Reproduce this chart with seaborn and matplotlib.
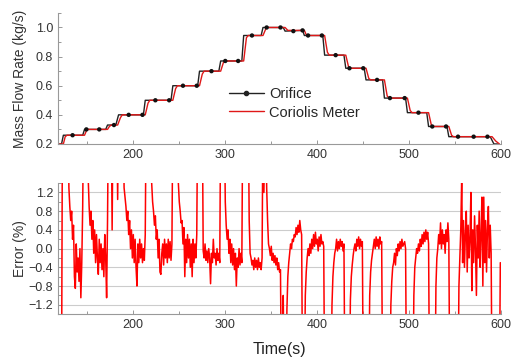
import numpy as np
import pandas as pd
import seaborn as sns
from matplotlib import pyplot as plt
from matplotlib.lines import Line2D
from matplotlib.ticker import MultipleLocator

# flow rate, orifice (step corners)
orifice_t = [120, 122, 124, 145, 147, 170, 172, 181, 184, 211, 213, 241, 243, 270, 272,
             293, 295, 318, 320, 339, 341, 363, 365, 384, 386, 406, 408, 429, 431, 451,
             453, 471, 473, 496, 498, 519, 521, 541, 543, 588, 592, 596]
orifice_v = [0.2, 0.2, 0.26, 0.26, 0.30, 0.30, 0.33, 0.33, 0.40, 0.40, 0.50, 0.50, 0.60, 0.60, 0.70,
             0.70, 0.77, 0.77, 0.945, 0.945, 1.0, 1.0, 0.975, 0.98, 0.945, 0.945, 0.81, 0.81, 0.72, 0.72,
             0.64, 0.64, 0.515, 0.515, 0.415, 0.415, 0.32, 0.32, 0.25, 0.25, 0.2, 0.2]

# orifice sample markers
marker_t = [134, 149, 163, 179, 195, 210, 224, 239, 254, 269, 285, 300, 314, 329, 345, 360,
            374, 384, 390, 405, 420, 435, 450, 465, 479, 495, 510, 525, 540, 553, 570, 585]
marker_v = [0.26, 0.30, 0.30, 0.33, 0.40, 0.40, 0.50, 0.50, 0.60, 0.60, 0.70, 0.77, 0.77, 0.945, 1.0, 1.0,
            0.975, 0.98, 0.945, 0.945, 0.81, 0.72, 0.72, 0.64, 0.515, 0.515, 0.415, 0.32, 0.32, 0.25, 0.25, 0.25]

# coriolis meter (lags the orifice a little)
coriolis_t = [120, 124, 126, 128, 147, 149, 151, 172, 174, 176, 183, 186, 188, 213, 216, 218,
              243, 246, 248, 272, 275, 277, 295, 298, 300, 320, 323, 325, 341, 344, 346, 365,
              368, 386, 388, 390, 408, 411, 413, 431, 434, 436, 453, 456, 458, 473, 476, 478,
              498, 501, 503, 521, 524, 526, 543, 546, 548, 590, 594, 598]
coriolis_v = [0.2, 0.2, 0.25, 0.26, 0.26, 0.29, 0.30, 0.30, 0.32, 0.33, 0.33, 0.38, 0.40, 0.40, 0.48, 0.50,
              0.50, 0.58, 0.60, 0.60, 0.68, 0.70, 0.70, 0.76, 0.77, 0.77, 0.93, 0.945, 0.945, 0.99, 1.0, 1.0,
              0.98, 0.98, 0.95, 0.945, 0.945, 0.83, 0.81, 0.81, 0.73, 0.72, 0.72, 0.65, 0.64, 0.64, 0.53, 0.515,
              0.515, 0.43, 0.415, 0.415, 0.33, 0.32, 0.32, 0.26, 0.25, 0.25, 0.22, 0.2]

# error (%), one value per second from t=120 s; +-3 means off scale
error_t0 = 120
error_pct = [
    -3, -3, -3, 3, 3, 3, 3, 3, 3, 3,
    1.3, 0.9, 0.6, 0.8, 0.2, 0.5, -0.6, -0.85, 0.1, -0.5,
    -0.2, -0.7, 0.0, -1.05, -0.3, 0.9, 3, 3, 3, 3,
    3, 1.5, 0.9, 0.5, 0.8, 0.2, 0.6, -0.1, 0.4, -0.3,
    0.3, -0.2, -0.55, 0.2, -0.3, 0.1, -0.45, 0.0, -0.6, 0.3,
    -0.2, -1.05, 0.6, 3, 3, 3, 3, 0.4, 3, 3,
    3, 3, 3, 1.05, 3, 3, 3, 3, 3, 3,
    1.3, 1.1, 0.9, 0.6, 0.8, 0.3, 0.6, 0.0, 0.4, -0.2,
    0.3, -0.3, 0.2, -0.4, -0.8, 0.1, -0.3, 0.2, -0.2, 0.1,
    -0.3, 0.0, -0.25, 0.3, 3, 3, 3, 3, 3, 3,
    1.4, 1.0, 0.8, 0.5, 0.7, 0.2, 0.4, -0.2, 0.2, -0.5,
    -0.55, -0.1, 0.1, -0.35, 0.2, -0.2, 0.1, -0.3, 0.2, -0.2,
    0.15, -0.25, 0.1, 3, 3, 3, 3, 3, 3, 1.4,
    1.0, 0.8, 0.55, 0.6, 0.1, 0.45, -0.6, 0.2, -0.3, 0.3,
    -0.2, 0.2, -0.4, 0.1, -0.6, 0.2, -0.3, 0.1, -0.2, 0.3,
    3, 3, 3, 3, 3, 3, -0.05, -0.2, 0.1, -0.25,
    -0.05, -0.3, 0.0, -0.2, -0.75, -0.1, -0.3, 0.2, -0.2, -0.1,
    -0.35, 0.0, -0.25, -0.1, -0.3, 3, 3, 3, 3, 3,
    1.0, 0.5, 0.2, 0.4, -0.1, 0.2, -0.3, 0.1, -0.35, 0.0,
    -0.45, -0.1, -0.8, -0.2, -0.4, 0.0, -0.35, -0.1, -0.3, 3,
    3, 3, 3, 3, 3, 3, 0.6, -0.1, -0.2, -0.35,
    -0.25, -0.45, -0.2, -0.4, -0.25, -0.45, -0.2, -0.4, -0.3, -0.45,
    -0.2, 3, 1.2, 3, 3, 1.3, 0.6, 0.1, 0.0, -0.15,
    0.05, -0.25, -0.1, -0.3, -0.15, -0.35, -0.2, -0.45, -0.3, -0.5,
    -0.45, -3, -3, -1.0, -3, -3, -3, -1.3, -0.6, -0.3,
    -0.1, 0.1, 0.0, 0.2, 0.15, 0.3, 0.25, 0.45, 0.3, 0.5,
    0.35, 0.6, 0.4, 0.3, -3, -3, -3, -1.0, -0.5, -0.2,
    0.0, -0.15, 0.1, -0.1, 0.2, 0.0, 0.3, 0.05, 0.35, 0.1,
    0.2, -0.05, 0.25, 0.05, 0.3, 0.1, 0.15, 0.05, -3, -3,
    -3, -3, -3, -3, -3, -3, -1.2, -0.6, -0.3, -0.1,
    0.0, 0.2, -0.05, 0.15, 0.0, 0.2, 0.05, 0.15, -0.05, 0.1,
    -3, -3, -3, -3, -3, -3, -1.1, -0.6, -0.35, -0.15,
    0.0, 0.1, -0.05, 0.2, 0.05, 0.25, 0.0, 0.2, 0.05, 0.15,
    -3, -3, -3, -3, -3, -3, -3, -1.0, -0.5, -0.25,
    -0.1, 0.05, 0.2, 0.0, 0.25, 0.05, 0.2, 0.0, 0.25, 0.1,
    0.15, -3, -3, -3, -3, -3, -3, -3, -3, -3,
    -1.2, -0.7, -0.4, -0.3, -0.1, -0.35, 0.0, -0.15, 0.1, -0.05,
    0.15, 0.0, 0.2, 0.05, 0.1, 0.15, 0.0, -3, -3, -3,
    -3, -3, -3, -3, -3, -1.0, -0.4, -0.2, 0.0, -0.1,
    0.1, -0.05, 0.2, 0.05, 0.3, 0.1, 0.35, 0.15, 0.4, 0.2,
    0.35, 0.1, -3, -3, -3, -3, -3, -3, -3, -0.8,
    -0.2, 0.0, 0.3, 0.1, 0.55, 0.0, 0.4, 0.1, 0.3, -0.1,
    0.4, 0.15, 0.55, 0.2, -3, -3, -3, -3, -3, -3,
    -3, -3, -3, -3, -0.8, -0.2, 0.4, 1.5, -0.3, 0.6,
    -0.4, 0.3, 0.8, -0.5, 0.5, -0.2, 0.2, 1.2, -0.9, 0.4,
    -0.3, 0.7, 0.0, -1.0, 0.5, -0.2, 0.8, -0.4, 0.3, 1.1,
    -0.8, 1.1, -0.3, 0.6, -0.5, 0.4, 0.9, -0.2, 0.5, -0.1,
    -3, -3, -3, -3, -3, -3, -3, -3, -3, -0.3,
]
error_time = np.arange(error_t0, error_t0 + len(error_pct))

sns.set_theme(style='white')
plt.rcParams['font.family'] = ['Liberation Sans', 'DejaVu Sans']

fig = plt.figure(figsize=(5.12, 3.59), dpi=100)
ax1 = fig.add_axes([0.113, 0.599, 0.866, 0.365])
ax2 = fig.add_axes([0.113, 0.125, 0.866, 0.365])

red = '#e01818'
sns.lineplot(x=orifice_t, y=orifice_v, ax=ax1, color='#222222', lw=1.0)
sns.lineplot(x=coriolis_t, y=coriolis_v, ax=ax1, color=red, lw=1.0)
sns.scatterplot(x=marker_t, y=marker_v, ax=ax1, color='#111111', s=10, edgecolor='none', zorder=5)

sns.lineplot(x=error_time, y=error_pct, ax=ax2, color='#ff0000', lw=1.1)

handles = [Line2D([], [], color='#222222', lw=1.0, marker='o', ms=3),
           Line2D([], [], color=red, lw=1.0)]
ax1.legend(handles, ['Orifice', 'Coriolis Meter'], loc='center left',
           bbox_to_anchor=(0.385, 0.31), frameon=False, fontsize=10.5,
           handlelength=2.4, handletextpad=0.4, borderpad=0, borderaxespad=0,
           labelspacing=0.3)

for ax in (ax1, ax2):
    ax.set_xlim(118, 600)
    ax.xaxis.set_major_locator(MultipleLocator(100))
    ax.xaxis.set_minor_locator(MultipleLocator(50))
    ax.tick_params(which='both', direction='in', colors='#888888', labelcolor='#333333',
                   labelsize=9, left=True, bottom=True)
    ax.tick_params(which='major', length=3, width=0.6)
    ax.tick_params(which='minor', length=2, width=0.6)
    for s in ('top', 'right'):
        ax.spines[s].set_visible(False)
    for s in ('left', 'bottom'):
        ax.spines[s].set_color('#999999')
        ax.spines[s].set_linewidth(0.8)

ax1.set_ylim(0.2, 1.1)
ax1.yaxis.set_major_locator(MultipleLocator(0.2))
ax1.yaxis.set_minor_locator(MultipleLocator(0.1))
ax1.set_ylabel('Mass Flow Rate (kg/s)', fontsize=10, color='#333333')

ax2.set_ylim(-1.4, 1.4)
ax2.set_yticks([1.2, 0.8, 0.4, 0.0, -0.4, -0.8, -1.2])
ax2.yaxis.set_minor_locator(MultipleLocator(0.2))
ax2.grid(axis='y', which='major', color='#cccccc', lw=0.8)
ax2.set_axisbelow(True)
ax2.set_ylabel('Error (%)', fontsize=10, color='#333333')
ax2.set_xlabel('Time(s)', fontsize=11.5, color='#222222', labelpad=8)

ax1.yaxis.set_label_coords(-0.07, 0.5)
ax2.yaxis.set_label_coords(-0.07, 0.5)

fig.savefig('out.png', dpi=100)
